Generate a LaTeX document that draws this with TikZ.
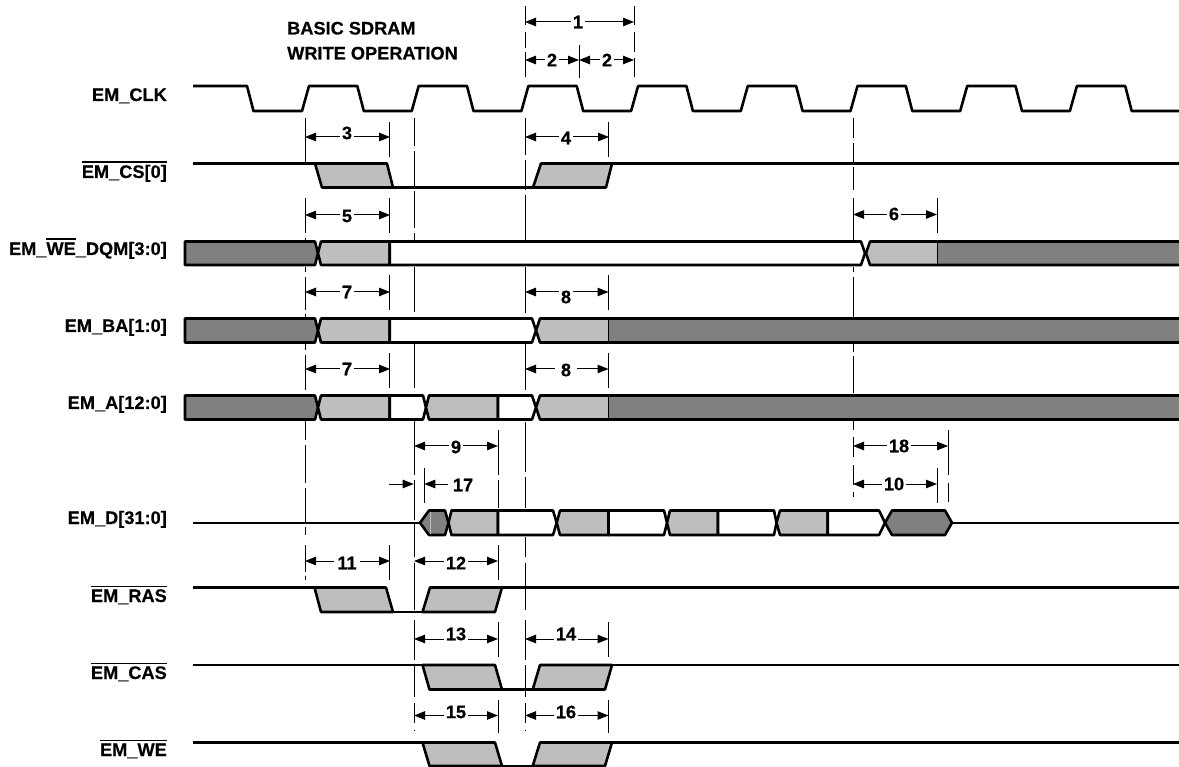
\documentclass[tikz,border=0pt]{standalone}
\usepackage{fontspec}
\setmainfont{Liberation Sans}[BoldFeatures={FakeBold=0.4}]
\usetikzlibrary{arrows.meta}
\definecolor{dk}{HTML}{808080}
\definecolor{lt}{HTML}{BEBEBE}
\newcommand\ovl[2][15.2pt]{\setbox0\hbox{#2}\rlap{\raise #1\hbox{\vrule width\wd0 height 1.3pt depth 0pt}}\box0}
\newcommand\busseg[5]{\draw[sig,fill=#1] (#2,\T) -- (#4,\T) -- (#5,\M) -- (#4,\B) -- (#2,\B) -- (#3,\M) -- cycle;}
\newcommand\ltdk[3]{\fill[lt] (#1,\T) -- (#3,\T) -- (#3,\B) -- (#1,\B) -- (#2,\M) -- cycle;
  \fill[dk] (#3,\T) rectangle (1185,\B);
  \draw[sig] (1185,\T) -- (#1,\T) -- (#2,\M) -- (#1,\B) -- (1185,\B);
  \draw[black,line width=1pt] (#3,\T) -- (#3,\B);}
\newcommand\guide[2]{\foreach \a/\b in {#2}{\draw[dashln] (#1,\a) -- (#1,\b);}}
\newcommand\dimline[7][]{\coordinate (#2a) at (#3,#5);\coordinate (#2b) at (#4,#5);
  \draw[dimln] (#2a) -- (#2b);
  \node[dimlabel,#1] (#2l) at (#6) {#7};}
\tikzset{
  sig/.style={black,line width=2.6pt,line join=round},
  dashln/.style={black,line width=0.9pt},
  dimln/.style={black,line width=1pt,{Triangle[length=11pt,width=8.5pt]}-{Triangle[length=11pt,width=8.5pt]}},
  txt/.style={font=\bfseries\fontsize{18.2}{21}\selectfont,inner sep=0pt},
  siglabel/.style={txt,anchor=base east},
  dimlabel/.style={txt,fill=white,inner xsep=1.5pt,inner ysep=0pt}
}
\begin{document}
\begin{tikzpicture}[x=1pt,y=-1pt]
\clip (0,0) rectangle (1179,767);
\fill[white] (0,0) rectangle (1179,767);
% dashed guides
\guide{305}{118/165,198/233,238/241,267/272,277/310,314/318,343/350,355/390,421/440,445/483,488/523,527/535,545/572,576/580}
\guide{389.7}{122/157,198/233,275/310,353/388,545/580}
\guide{414}{118/146,151/186,191/228,233/241,267/312,317/318,343/388,421/475,480/520,523/557,563/610,620/660,665/697,703/723,730/731}
\guide{424.3}{468/503}
\guide{498}{430/475,480/508,545/580,622/657,700/733}
\guide{525}{6/25,32/48,52/77,118/155,160/190,195/241,267/313,318/342,344/390,422/472,477/508,537/557,563/610,620/660,665/697,703/723,730/731}
\guide{579}{45/78}
\guide{634}{6/25,32/52,58/77}
\guide{608.5}{122/157,275/310,353/388,622/657,700/733}
\guide{853}{118/138,143/163,167/190,198/240,267/272,277/317,343/352,356/393,420/430,437/457,465/485,492/497}
\guide{937}{198/233,468/503}
\guide{948}{430/475,483/502}
% clock
\draw[sig] (193,86) -- (247,86) -- (253.5,111)
  foreach \k in {0,...,7}{ -- ({302+109.7*\k},111) -- ({309+109.7*\k},86) -- ({357.3+109.7*\k},86) -- ({363.8+109.7*\k},111)}
  -- (1185,111);
% CS
\draw[sig,fill=lt] (315,163.5) -- (387,163.5) -- (393,187.5) -- (322,187.5) -- cycle;
\draw[sig,fill=lt] (541,163.5) -- (612,163.5) -- (606,187.5) -- (533,187.5) -- cycle;
\draw[sig] (193,163.5) -- (315,163.5);
\draw[sig] (393,187.5) -- (533,187.5);
\draw[sig] (612,163.5) -- (1185,163.5);
% WE_DQM
\def\T{241.5}\def\B{265}\def\M{253.2}
\busseg{dk}{185}{185}{315}{318}
\busseg{lt}{321}{318}{389.7}{389.7}
\busseg{white}{389.7}{389.7}{861}{865}
\ltdk{870}{866}{937}
% BA
\def\T{318.5}\def\B{342.5}\def\M{330.5}
\busseg{dk}{185}{185}{315}{318}
\busseg{lt}{321}{318}{389.7}{389.7}
\busseg{white}{389.7}{389.7}{532}{536}
\ltdk{540}{536}{608.5}
% A
\def\T{395.5}\def\B{419.5}\def\M{407.5}
\busseg{dk}{185}{185}{315}{318}
\busseg{lt}{321}{318}{389.7}{389.7}
\busseg{white}{389.7}{389.7}{423}{426}
\busseg{lt}{429}{426}{498}{498}
\busseg{white}{498}{498}{532}{536}
\ltdk{540}{536}{608.5}
% D
\draw[sig] (193,522.8) -- (420,522.8);
\def\T{510.5}\def\B{535}\def\M{522.8}
\draw[sig,fill=dk] (429,\T) -- (445,\T) -- (448.5,\M) -- (445,\B) -- (429,\B) -- (420,\M) -- cycle;
\draw[lt,line width=1pt] (430,512) -- (430,534);
\busseg{lt}{451.5}{448.5}{498}{498}
\busseg{white}{498}{498}{553}{556.7}
\busseg{lt}{560}{556.7}{608.5}{608.5}
\busseg{white}{608.5}{608.5}{664}{667}
\busseg{lt}{670}{667}{718}{718}
\busseg{white}{718}{718}{774}{776.5}
\busseg{lt}{780}{776.5}{827.7}{827.7}
\busseg{white}{827.7}{827.7}{879}{885}
\draw[sig,fill=dk] (892,\T) -- (945,\T) -- (952,\M) -- (945,\B) -- (892,\B) -- (885,\M) -- cycle;
\draw[sig] (952,\M) -- (1185,\M);
% RAS
\draw[sig,fill=lt] (314.5,587.5) -- (386,587.5) -- (393,612) -- (321,612) -- cycle;
\draw[sig,fill=lt] (430,587.5) -- (502,587.5) -- (495,612) -- (422.5,612) -- cycle;
\draw[sig] (193,587.5) -- (314.5,587.5);
\draw[sig] (393,612) -- (422.5,612);
\draw[sig] (502,587.5) -- (1185,587.5);
% CAS
\draw[sig,fill=lt] (422.5,665) -- (495,665) -- (502,689.5) -- (429.5,689.5) -- cycle;
\draw[sig,fill=lt] (540,665) -- (612,665) -- (605,689.5) -- (532.7,689.5) -- cycle;
\draw[sig] (193,665) -- (422.5,665);
\draw[sig] (502,689.5) -- (532.7,689.5);
\draw[sig] (612,665) -- (1185,665);
% WE
\draw[sig,fill=lt] (422.5,742.5) -- (495,742.5) -- (502,766) -- (429.5,766) -- cycle;
\draw[sig,fill=lt] (540,742.5) -- (612,742.5) -- (605,766) -- (532.7,766) -- cycle;
\draw[sig] (193,742.5) -- (422.5,742.5);
\draw[sig] (502,766) -- (532.7,766);
\draw[sig] (612,742.5) -- (1185,742.5);
% dimension arrows
\dimline{d1}{525}{634}{22}{578,22}{1}
\dimline{d2a}{525}{579}{60}{552,60}{2}
\dimline{d2b}{579}{634}{60}{607,60}{2}
\dimline{d3}{305}{390}{137}{347,133}{3}
\dimline{d4}{525}{609}{137}{566,138}{4}
\dimline{d5}{305}{390}{215}{347,216}{5}
\dimline{d6}{853}{937}{214.5}{894,214}{6}
\dimline{d7a}{305}{390}{292}{347,292}{7}
\dimline{d7b}{305}{390}{369}{347,369}{7}
\dimline{d8a}{525}{608.5}{292}{566,297}{8}
\dimline[inner xsep=6pt]{d8b}{525}{608.5}{369}{566,370}{8}
\dimline{d9}{414}{498}{446}{456,447}{9}
\dimline{d18}{853}{948}{446}{899,446}{18}
\dimline{d10}{853}{937}{484}{894,484}{10}
\dimline[inner xsep=3pt]{d11}{305}{390}{561}{347,563}{11}
\dimline{d12}{414}{498}{561}{456,563}{12}
\dimline{d13}{414}{498}{639}{456,634}{13}
\dimline{d14}{525}{608.5}{639}{566,634}{14}
\dimline{d15}{414}{498}{715.5}{456,712}{15}
\dimline{d16}{525}{608.5}{715.5}{566,712}{16}
% 17
\coordinate (e17a) at (389,484);\coordinate (e17b) at (413.7,484);
\coordinate (e17c) at (447.7,484);\coordinate (e17d) at (424.3,484);
\draw[black,line width=1pt,-{Triangle[length=11pt,width=8.5pt]}] (e17a) -- (e17b);
\draw[black,line width=1pt,-{Triangle[length=11pt,width=8.5pt]}] (e17c) -- (e17d);
\node[txt] (l17) at (463,485) {17};
% labels
\node[siglabel] (lclk) at (167,101) {EM\_CLK};
\node[siglabel] (lcs) at (167,178) {\ovl{EM\_CS[0]}};
\node[siglabel] (ldqm) at (167,255) {EM\_\ovl{WE}\_DQM[3:0]};
\node[siglabel] (lba) at (167,332) {EM\_BA[1:0]};
\node[siglabel] (la) at (167,409) {EM\_A[12:0]};
\node[siglabel] (ld) at (167,524) {EM\_D[31:0]};
\node[siglabel] (lras) at (167,602) {\ovl{EM\_RAS}};
\node[siglabel] (lcas) at (167,679) {\ovl{EM\_CAS}};
\node[siglabel] (lwe) at (167,756) {\ovl{EM\_WE}};
\node[txt,anchor=base west] (t1) at (287,34.5) {BASIC SDRAM};
\node[txt,anchor=base west] (t2) at (287,59.5) {WRITE OPERATION};
\end{tikzpicture}
\end{document}
